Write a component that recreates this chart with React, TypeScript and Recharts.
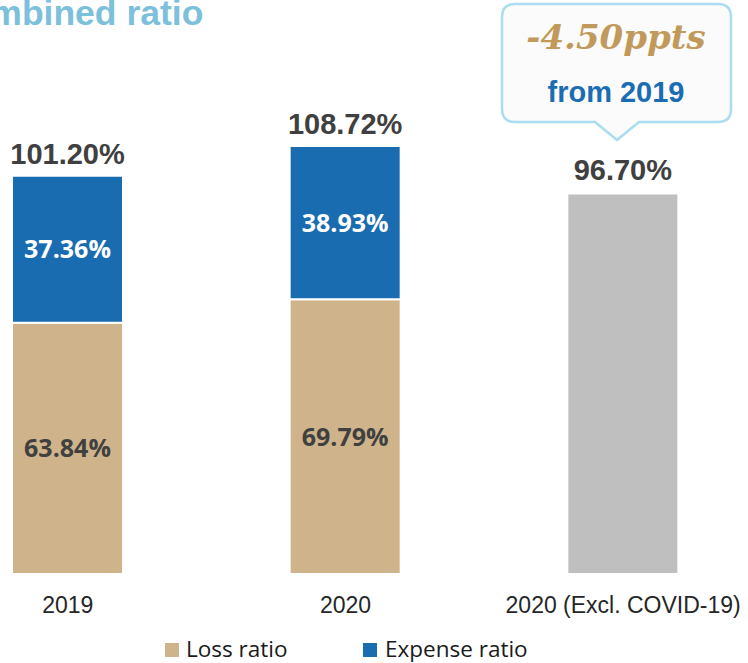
import { BarChart, Bar, XAxis, YAxis, LabelList } from 'recharts';

const categories = ['2019', '2020', '2020 (Excl. COVID-19)'];
const lossRatio = [63.84, 69.79, null];
const expenseRatio = [37.36, 38.93, null];
const adjustedRatio = [null, null, 96.7];
const combinedRatio = [101.2, 108.72, 96.7];

const LOSS = '#cfb38a';
const EXPENSE = '#1a6cb1';
const GREY = '#bfbfbf';

const chartData = categories.map((name, i) => ({
  name,
  loss: lossRatio[i],
  expense: expenseRatio[i],
  adjusted: adjustedRatio[i],
  // total shown above the blue stack only where the stack exists
  stackTotal: expenseRatio[i] != null ? combinedRatio[i] : null,
  total: combinedRatio[i],
}));

const pct = (v: any) => (v == null ? '' : `${Number(v).toFixed(2)}%`);

const insideFont = { fontFamily: '"Open Sans", sans-serif', fontWeight: 700, fontSize: 25 };
const topFont = { fontFamily: '"Liberation Sans", Arial, sans-serif', fontWeight: 700, fontSize: 29 };

const Overlay = () => (
  <svg
    width={748}
    height={663}
    style={{ position: 'absolute', left: 0, top: 0, pointerEvents: 'none' }}
  >
    <text
      x={-57}
      y={25}
      fill="#7cc0dc"
      style={{ fontFamily: '"Liberation Sans", Arial, sans-serif', fontWeight: 700, fontSize: 35.5 }}
    >
      Combined ratio
    </text>

    {/* callout */}
    <path
      d="M515,4 H718 Q731,4 731,17 V109 Q731,122 718,122 H639 L617,140 L595,122 H515 Q502,122 502,109 V17 Q502,4 515,4 Z"
      fill="#fbfbfb"
      stroke="#aadcf2"
      strokeWidth={2.5}
      strokeLinejoin="round"
    />
    <text
      x={616}
      y={49}
      textAnchor="middle"
      fill="#c19a5b"
      style={{ fontFamily: '"DejaVu Serif", serif', fontWeight: 700, fontStyle: 'italic', fontSize: 34 }}
    >
      -4.50ppts
    </text>
    <text
      x={616}
      y={102}
      textAnchor="middle"
      fill="#1b6db3"
      style={{ fontFamily: '"Liberation Sans", Arial, sans-serif', fontWeight: 700, fontSize: 29 }}
    >
      from 2019
    </text>

    {/* legend */}
    <rect x={165} y={643} width={14} height={14} fill={LOSS} />
    <text x={186} y={657} fill="#1a1a1a" style={{ fontFamily: '"Open Sans", sans-serif', fontSize: 22.5 }}>
      Loss ratio
    </text>
    <rect x={363} y={643} width={14} height={14} fill={EXPENSE} />
    <text x={385} y={657} fill="#1a1a1a" style={{ fontFamily: '"Open Sans", sans-serif', fontSize: 22.5 }}>
      Expense ratio
    </text>
  </svg>
);

export default function App() {
  return (
    <div
      style={{
        position: 'fixed',
        left: 0,
        top: 0,
        width: 748,
        height: 663,
        overflow: 'hidden',
        background: '#fff',
      }}
    >
      <div style={{ position: 'absolute', left: -71, top: 0 }}>
        <BarChart
          width={833}
          height={663}
          data={chartData}
          margin={{ top: 23, right: 0, left: 0, bottom: 0 }}
        >
          <YAxis hide domain={[0, 140]} />
          <XAxis
            dataKey="name"
            height={89}
            axisLine={false}
            tickLine={false}
            tickSize={0}
            tickMargin={23}
            interval={0}
            tick={{ fill: '#262626', fontSize: 23, fontFamily: '"Liberation Sans", Arial, sans-serif' }}
          />
          <Bar dataKey="loss" stackId="a" fill={LOSS} stroke="#fff" strokeWidth={2} barSize={111} isAnimationActive={false}>
            <LabelList dataKey="loss" position="center" formatter={pct} fill="#404040" style={insideFont} />
          </Bar>
          <Bar dataKey="expense" stackId="a" fill={EXPENSE} stroke="#fff" strokeWidth={2} barSize={111} isAnimationActive={false}>
            <LabelList dataKey="expense" position="center" formatter={pct} fill="#fff" style={insideFont} />
            <LabelList dataKey="stackTotal" position="top" offset={12} formatter={pct} fill="#404040" style={topFont} />
          </Bar>
          <Bar dataKey="adjusted" stackId="a" fill={GREY} stroke="#fff" strokeWidth={2} barSize={111} isAnimationActive={false}>
            <LabelList dataKey="adjusted" position="top" offset={13} formatter={pct} fill="#404040" style={topFont} />
          </Bar>
        </BarChart>
      </div>
      <Overlay />
    </div>
  );
}
